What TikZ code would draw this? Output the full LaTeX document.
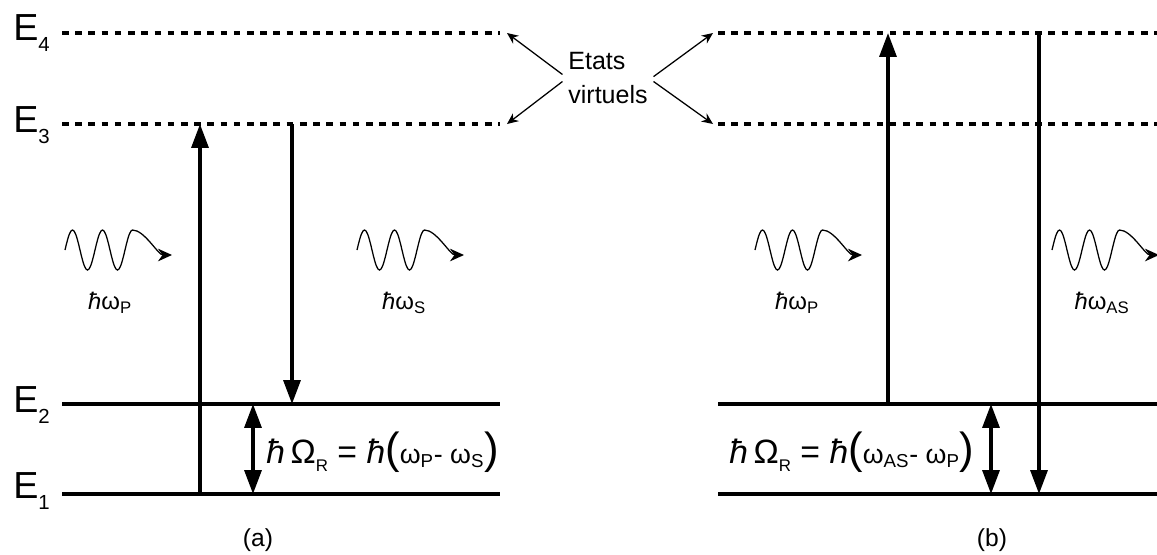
\documentclass[tikz,border=0pt]{standalone}
\usepackage{fontspec}
\setmainfont{Liberation Sans}
\usetikzlibrary{arrows.meta}

\newcommand{\hbarT}{\textit{ħ}}
\newcommand{\lvlabel}[2]{E\raisebox{-8pt}{\fontsize{14.5}{16}\selectfont #2}}
\newcommand{\smallsub}[1]{\raisebox{-6pt}{\fontsize{12}{14}\selectfont #1}}
\newcommand{\bigparen}[1]{{\fontsize{31}{33}\selectfont #1}}
\newcommand{\omegas}[1]{{\fontsize{19}{21}\selectfont #1}}

\begin{document}
\begin{tikzpicture}[x=0.025cm, y=-0.025cm,
    level/.style={line width=2.8pt},
    virtual/.style={line width=2.4pt, dash pattern=on 4.7pt off 4.7pt},
    transition/.style={line width=2.5pt, -{Triangle[length=17pt,width=12pt]}},
    gap/.style={line width=2.5pt, {Triangle[length=17pt,width=12pt]}-{Triangle[length=17pt,width=12pt]}},
    pointer/.style={line width=0.9pt, -{Stealth[length=8pt,width=7pt]}},
    energy/.style={inner sep=0pt, anchor=base west, font=\fontsize{26.8}{30}\selectfont},
    photonlabel/.style={font=\fontsize{17}{20}\selectfont},
    eqlabel/.style={anchor=west, inner sep=0pt, font=\fontsize{24}{28}\selectfont},
    caption/.style={font=\fontsize{17.5}{20}\selectfont},
    photon/.pic={
        \draw[line width=0.9pt, -{Stealth[length=10pt,width=9pt]}]
            plot[smooth, domain=0:67.5, samples=46] (\x,{-20*sin(12*\x)})
            .. controls +(12,0) and +(-14,0) .. (107,5);
    }]
    \useasboundingbox (0,0) rectangle (1157,554);

    % Levels
    \foreach \lv/\y in {1/494, 2/404, 3/124, 4/33} {
        \coordinate (a\lv w) at (62,\y);
        \coordinate (a\lv e) at (500,\y);
        \coordinate (b\lv w) at (718,\y);
        \coordinate (b\lv e) at (1157,\y);
    }
    \draw[level] (a1w) -- (a1e);
    \draw[level] (a2w) -- (a2e);
    \draw[virtual] (a3w) -- (a3e);
    \draw[virtual] (a4w) -- (a4e);
    \draw[level] (b1w) -- (b1e);
    \draw[level] (b2w) -- (b2e);
    \draw[virtual] (b3w) -- (b3e);
    \draw[virtual] (b4w) -- (b4e);

    % Level names
    \node (E4) [energy] at (13,40) {\lvlabel{E}{4}};
    \node (E3) [energy] at (13,132) {\lvlabel{E}{3}};
    \node (E2) [energy] at (13,412) {\lvlabel{E}{2}};
    \node (E1) [energy] at (13,498) {\lvlabel{E}{1}};

    % Virtual states
    \node (virt) [align=left, inner sep=4pt, font=\fontsize{17.8}{23.5}\selectfont] at (608,78) {Etats\\virtuels};
    \coordinate (tipA4) at (507,33);
    \coordinate (tipA3) at (507,124);
    \coordinate (tipB4) at (713,33);
    \coordinate (tipB3) at (713,124);
    \draw[pointer] ([yshift=2.5pt]virt.west) -- (tipA4);
    \draw[pointer] ([yshift=-2.5pt]virt.west) -- (tipA3);
    \draw[pointer] ([yshift=1pt]virt.east) -- (tipB4);
    \draw[pointer] ([yshift=-2.5pt]virt.east) -- (tipB3);

    % Transitions (a)
    \coordinate (pumpA1) at (200,494);
    \coordinate (pumpA3) at (200,124);
    \coordinate (stokesA3) at (292,124);
    \coordinate (stokesA2) at (292,404);
    \coordinate (ramanA2) at (253,404);
    \coordinate (ramanA1) at (253,494);
    \draw[transition] (pumpA1) -- (pumpA3);
    \draw[transition] (stokesA3) -- (stokesA2);
    \draw[gap] (ramanA2) -- (ramanA1);

    % Transitions (b)
    \coordinate (pumpB2) at (888,404);
    \coordinate (pumpB4) at (888,33);
    \coordinate (antiB4) at (1039,33);
    \coordinate (antiB1) at (1039,494);
    \coordinate (ramanB2) at (991,404);
    \coordinate (ramanB1) at (991,494);
    \draw[transition] (pumpB2) -- (pumpB4);
    \draw[transition] (antiB4) -- (antiB1);
    \draw[gap] (ramanB2) -- (ramanB1);

    % Photons
    \pic at (65,250) {photon};
    \pic at (357,250) {photon};
    \pic at (755,250) {photon};
    \pic at (1052,250) {photon};
    \node (hwPa) [photonlabel] at (110,303) {\hbarT ω\textsubscript{P}};
    \node (hwSa) [photonlabel] at (404,303) {\hbarT ω\textsubscript{S}};
    \node (hwPb) [photonlabel] at (797,303) {\hbarT ω\textsubscript{P}};
    \node (hwASb) [photonlabel] at (1102,303) {\hbarT ω\textsubscript{AS}};

    % Raman shift
    \node (shiftA) [eqlabel] at (266,452) {\hbarT\,Ω\smallsub{R} = \hbarT\bigparen{(}\omegas{ω\textsubscript{P}- ω\textsubscript{S}}\bigparen{)}};
    \node (shiftB) [eqlabel] at (729,452) {\hbarT\,Ω\smallsub{R} = \hbarT\bigparen{(}\omegas{ω\textsubscript{AS}- ω\textsubscript{P}}\bigparen{)}};

    % Captions
    \node (capA) [caption] at (258,540) {(a)};
    \node (capB) [caption] at (992,540) {(b)};
\end{tikzpicture}
\end{document}
